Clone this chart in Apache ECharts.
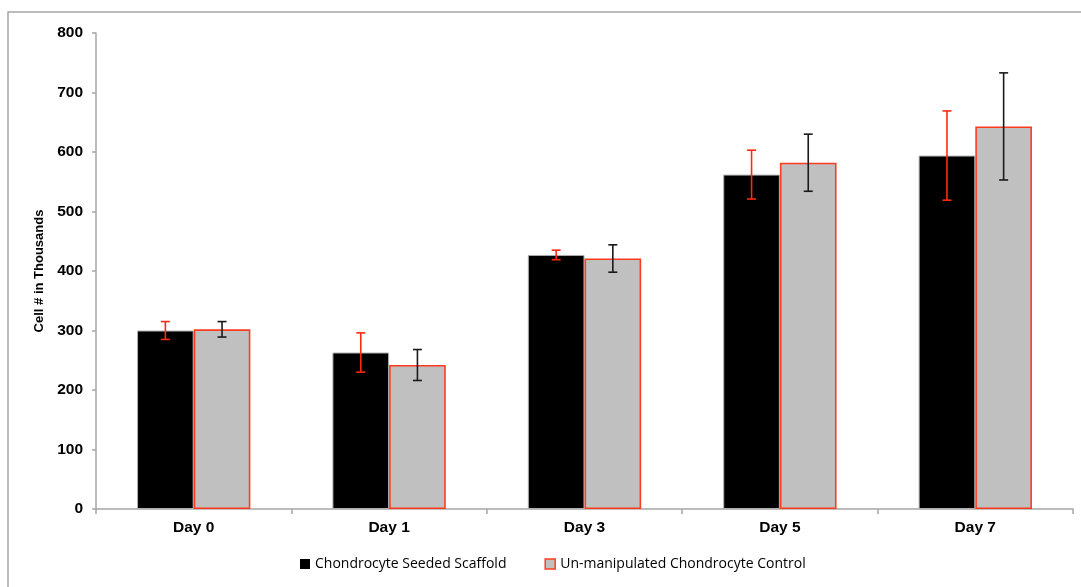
<!DOCTYPE html>
<html>
<head>
<meta charset="utf-8">
<script src="https://cdn.jsdelivr.net/npm/echarts@6/dist/echarts.min.js"></script>
<style>html,body{margin:0;padding:0;background:#fff;}#c{width:1081px;height:587px;}</style>
</head>
<body>
<div id="c"></div>
<script>
const categories = ['Day 0', 'Day 1', 'Day 3', 'Day 5', 'Day 7'];
const seededValues = [300, 263, 427, 562, 594];
const seededErrors = [15, 33, 8, 41, 75];
const controlValues = [302, 242, 421, 582, 643];
const controlErrors = [13, 26, 23, 48, 90];
const yTicks = [0, 100, 200, 300, 400, 500, 600, 700, 800];

const GAP = 0.42;
function errorSeries(values, errors, side, color) {
  return {
    type: 'custom',
    z: 10,
    silent: true,
    data: values.map((v, i) => [i, v - errors[i], v + errors[i]]),
    renderItem: function (params, api) {
      const idx = api.value(0);
      const band = api.size([1, 0])[0];
      const barW = band * (1 - GAP) / 2;
      const lo = api.coord([idx, api.value(1)]);
      const hi = api.coord([idx, api.value(2)]);
      const x = lo[0] + side * barW / 2;
      const cap = 4.5;
      const style = { stroke: color, lineWidth: 1.6, fill: null };
      return {
        type: 'group',
        children: [
          { type: 'line', shape: { x1: x, y1: lo[1], x2: x, y2: hi[1] }, style: style },
          { type: 'line', shape: { x1: x - cap, y1: lo[1], x2: x + cap, y2: lo[1] }, style: style },
          { type: 'line', shape: { x1: x - cap, y1: hi[1], x2: x + cap, y2: hi[1] }, style: style }
        ]
      };
    }
  };
}

const chart = echarts.init(document.getElementById('c'), null, { renderer: 'canvas' });
chart.setOption({
  animation: false,
  backgroundColor: '#fff',
  graphic: [{
    type: 'rect', x: 8, y: 12, silent: true,
    shape: { x: 0, y: 0, width: 1200, height: 700 },
    style: { fill: null, stroke: '#a6a6a6', lineWidth: 1.5 }
  }],
  grid: { left: 96, right: 8, top: 33, bottom: 78 },
  legend: {
    bottom: 11,
    left: 295,
    itemWidth: 10, itemHeight: 10, itemGap: 38,
    textStyle: { fontFamily: 'Open Sans', fontSize: 14, color: '#000' },
    data: [
      { name: 'Chondrocyte Seeded Scaffold', icon: 'rect', itemStyle: { color: '#000', borderWidth: 0 } },
      { name: 'Un-manipulated Chondrocyte Control', icon: 'rect', itemStyle: { color: '#c0c0c0', borderColor: '#ff3b1f', borderWidth: 1.5 } }
    ]
  },
  xAxis: {
    type: 'category',
    data: categories,
    axisLine: { lineStyle: { color: '#a6a6a6', width: 1.5 } },
    axisTick: { show: true, length: 5, lineStyle: { color: '#a6a6a6', width: 1.5 } },
    axisLabel: { fontFamily: 'Liberation Sans', fontWeight: 'bold', fontSize: 15.5, color: '#000', margin: 11 }
  },
  yAxis: {
    type: 'value',
    min: yTicks[0], max: yTicks[yTicks.length - 1], interval: 100,
    name: 'Cell # in Thousands',
    nameLocation: 'middle',
    nameGap: 42,
    nameTextStyle: { fontFamily: 'Liberation Sans', fontWeight: 'bold', fontSize: 13, color: '#000' },
    axisLine: { show: true, lineStyle: { color: '#a6a6a6', width: 1.5 } },
    axisTick: { show: true, length: 4, lineStyle: { color: '#a6a6a6', width: 1.5 } },
    splitLine: { show: false },
    axisLabel: { fontFamily: 'Liberation Sans', fontWeight: 'bold', fontSize: 15.5, color: '#000', margin: 13 }
  },
  series: [
    {
      name: 'Chondrocyte Seeded Scaffold',
      type: 'bar',
      data: seededValues,
      barGap: '0%',
      barCategoryGap: (GAP * 100) + '%',
      itemStyle: { color: '#000', borderColor: '#b0b0b0', borderWidth: 1 }
    },
    {
      name: 'Un-manipulated Chondrocyte Control',
      type: 'bar',
      data: controlValues,
      barGap: '0%',
      barCategoryGap: (GAP * 100) + '%',
      itemStyle: { color: '#c0c0c0', borderColor: '#ff3b1f', borderWidth: 1.6 }
    },
    errorSeries(seededValues, seededErrors, -1, '#ff2a10'),
    errorSeries(controlValues, controlErrors, 1, '#1a1a1a')
  ]
});
</script>
</body>
</html>
